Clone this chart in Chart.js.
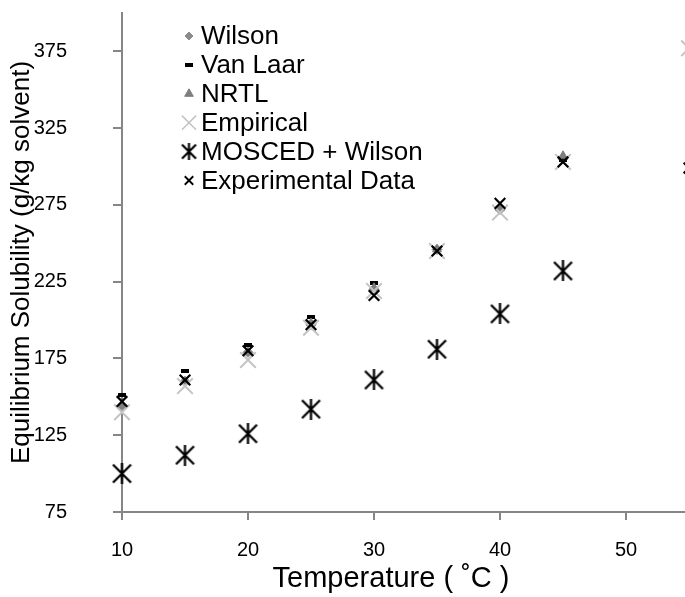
<!DOCTYPE html>
<html>
<head>
<meta charset="utf-8">
<script src="https://cdn.jsdelivr.net/npm/chart.js"></script>
<style>
html, body { margin: 0; padding: 0; background: #fff; overflow: hidden; }
#wrap { width: 780px; height: 597px; }
</style>
</head>
<body>
<div id="wrap"><canvas id="chart"></canvas></div>
<script>
// temperatures (deg C)
const temps = [10, 15, 20, 25, 30, 35, 40, 45];
const tempsExt = [10, 15, 20, 25, 30, 35, 40, 45, 55];

// solubility, g/kg solvent
const wilson = [144, 160, 179, 197, 220, 246, 272, 305];
const vanLaar = [151, 167, 184, 202, 224, 246, 273, 304];
const nrtl = [144, 160, 179, 198, 221, 246, 273, 307];
const empirical = [140, 157, 174, 195, 219, 245, 270, 303, 377];
const mosced = [100, 112, 126, 142, 161, 181, 204, 232];
const experimental = [147, 161, 180, 197, 216, 245, 276, 303, 299];

const yTicks = [75, 125, 175, 225, 275, 325, 375];
const xTicks = [10, 20, 30, 40, 50, 60];

const xTitle = 'Temperature ( ˚C )';
const yTitle = 'Equilibrium Solubility (g/kg solvent)';

const AXIS = '#868686';

function pts(xs, ys) {
    return ys.map((y, i) => ({x: xs[i], y: y}));
}

// Excel style star marker: X plus a vertical bar
function makeAsterisk(size, lw) {
    const c = document.createElement('canvas');
    c.width = size; c.height = size;
    const g = c.getContext('2d');
    g.strokeStyle = '#000';
    g.lineWidth = lw;
    const m = 1.5;
    g.beginPath();
    g.moveTo(m, m); g.lineTo(size - m, size - m);
    g.moveTo(size - m, m); g.lineTo(m, size - m);
    g.moveTo(size / 2, 0); g.lineTo(size / 2, size);
    g.stroke();
    return c;
}

function makeDash(w, h) {
    const c = document.createElement('canvas');
    c.width = w; c.height = h;
    const g = c.getContext('2d');
    g.fillStyle = '#000';
    g.fillRect(0, 0, w, h);
    return c;
}

const star = makeAsterisk(21, 2.3);
const starSmall = makeAsterisk(17, 2.2);
const dash = makeDash(8, 4);

const datasets = [
    {label: 'Wilson', data: pts(temps, wilson), pointStyle: 'rectRot', pointRadius: 5,
     backgroundColor: '#8c8c8c', borderColor: '#8c8c8c', borderWidth: 1, order: 6, clip: false},
    {label: 'Van Laar', data: pts(temps, vanLaar), pointStyle: dash, pointRadius: 4,
     backgroundColor: '#000', borderColor: '#000', borderWidth: 0, order: 5, clip: false},
    {label: 'NRTL', data: pts(temps, nrtl), pointStyle: 'triangle', pointRadius: 5,
     backgroundColor: '#7f7f7f', borderColor: '#7f7f7f', borderWidth: 1, order: 4, clip: false},
    {label: 'Empirical', data: pts(tempsExt, empirical), pointStyle: 'crossRot', pointRadius: 11,
     backgroundColor: '#c4c4c4', borderColor: '#c4c4c4', borderWidth: 2, order: 3, clip: false},
    {label: 'MOSCED + Wilson', data: pts(temps, mosced), pointStyle: star, pointRadius: 10,
     backgroundColor: '#000', borderColor: '#000', borderWidth: 0, order: 2, clip: false},
    {label: 'Experimental Data', data: pts(tempsExt, experimental), pointStyle: 'crossRot', pointRadius: 7.5,
     backgroundColor: '#000', borderColor: '#000', borderWidth: 2.2, order: 1, clip: false}
];

// legend markers drawn inside the plot, top left
const legendStyles = [
    {pointStyle: 'rectRot', radius: 4, borderWidth: 1},
    {pointStyle: dash, radius: 4, borderWidth: 0},
    {pointStyle: 'triangle', radius: 5, borderWidth: 1},
    {pointStyle: 'crossRot', radius: 10, borderWidth: 1.5},
    {pointStyle: starSmall, radius: 8, borderWidth: 0},
    {pointStyle: 'crossRot', radius: 6, borderWidth: 1.8}
];

const insideLegend = {
    id: 'insideLegend',
    afterDraw(chart) {
        const ctx = chart.ctx;
        const x0 = 189, y0 = 36, row = 28.9;
        ctx.save();
        chart.data.datasets.forEach((ds, i) => {
            const y = y0 + i * row;
            const st = legendStyles[i];
            ctx.fillStyle = ds.backgroundColor;
            ctx.strokeStyle = ds.borderColor;
            ctx.lineWidth = st.borderWidth;
            Chart.helpers.drawPoint(ctx, {pointStyle: st.pointStyle, radius: st.radius,
                borderWidth: st.borderWidth, rotation: 0}, x0, y);
            ctx.fillStyle = '#000';
            ctx.font = '26px "Liberation Sans", Arial, sans-serif';
            ctx.textBaseline = 'middle';
            ctx.textAlign = 'left';
            ctx.fillText(ds.label, 201, y + 1);
        });

        // x axis title sits left of the scale centre, as in the original
        ctx.font = '29px "Liberation Sans", Arial, sans-serif';
        ctx.textAlign = 'center';
        ctx.textBaseline = 'middle';
        ctx.fillText(xTitle, 391, 579);
        ctx.restore();
    }
};

new Chart(document.getElementById('chart'), {
    type: 'scatter',
    data: {datasets: datasets},
    plugins: [insideLegend],
    options: {
        responsive: true,
        maintainAspectRatio: false,
        animation: false,
        layout: {padding: {top: 13, right: 28, bottom: 0, left: 0}},
        plugins: {
            legend: {display: false},
            tooltip: {enabled: false}
        },
        scales: {
            x: {
                type: 'linear',
                min: 10,
                max: 60,
                afterBuildTicks: (scale) => { scale.ticks = xTicks.map(v => ({value: v})); },
                afterFit: (scale) => {
                    scale.height = 85;
                    scale.paddingLeft = 0;
                    scale.paddingRight = 0;
                },
                grid: {drawOnChartArea: false, drawTicks: true, tickLength: 8, color: AXIS, lineWidth: 2},
                border: {color: AXIS, width: 2},
                ticks: {
                    padding: 18,
                    color: '#000',
                    font: {family: '"Liberation Sans Narrow", "Liberation Sans", Arial', size: 20}
                }
            },
            y: {
                type: 'linear',
                min: 75,
                max: 400,
                afterBuildTicks: (scale) => { scale.ticks = yTicks.map(v => ({value: v})); },
                afterFit: (scale) => {
                    scale.width = 122;
                    scale.paddingTop = 0;
                    scale.paddingBottom = 0;
                },
                grid: {drawOnChartArea: false, drawTicks: true, tickLength: 9, color: AXIS, lineWidth: 2},
                border: {color: AXIS, width: 2},
                ticks: {
                    padding: 46,
                    color: '#000',
                    font: {family: '"Liberation Sans Narrow", "Liberation Sans", Arial', size: 20}
                },
                title: {
                    display: true,
                    text: yTitle,
                    color: '#000',
                    padding: {top: 6, bottom: 0},
                    font: {family: '"Liberation Sans", Arial', size: 26}
                }
            }
        }
    }
});
</script>
</body>
</html>
